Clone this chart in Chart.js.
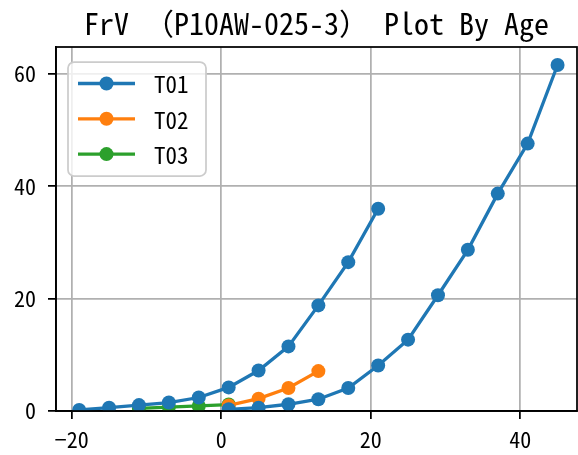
<!DOCTYPE html>
<html><head><meta charset="utf-8">
<script src="https://cdn.jsdelivr.net/npm/chart.js@4.4.0/dist/chart.umd.min.js"></script>
<style>html,body{margin:0;padding:0;background:#fff}canvas{display:block}</style>
</head><body>
<canvas id="c" width="578" height="455" style="width:578px;height:455px"></canvas>
<script>
// ---- data ----
const titleText = "FrV （P10AW-025-3） Plot By Age";
const seriesNames = ["T01", "T02", "T03"];
const seriesColors = ["#1f77b4", "#ff7f0e", "#2ca02c"];
const agesT01a = [-19, -15, -11, -7, -3, 1, 5, 9, 13, 17, 21];
const valsT01a = [0.2, 0.6, 1.05, 1.5, 2.4, 4.2, 7.2, 11.5, 18.8, 26.5, 36.0];
const agesT01b = [1, 5, 9, 13, 17, 21, 25, 29, 33, 37, 41, 45];
const valsT01b = [0.3, 0.6, 1.2, 2.1, 4.1, 8.1, 12.7, 20.6, 28.7, 38.7, 47.6, 61.6];
const agesT02 = [1, 5, 9, 13];
const valsT02 = [1.0, 2.2, 4.1, 7.1];
const agesT03 = [-11, -7, -3, 1];
const valsT03 = [0.45, 0.7, 0.9, 1.15];
const xTicks = [-20, 0, 20, 40];
const yTicks = [0, 20, 40, 60];

const FONT = "'Noto Sans Mono CJK JP', 'Noto Sans CJK JP', 'DejaVu Sans Mono', monospace";
const pts = (xs, ys) => xs.map((x, i) => ({x: x, y: ys[i]}));

function ds(label, xs, ys, color, inLegend) {
  return {
    label: label, data: pts(xs, ys), borderColor: color, backgroundColor: color,
    borderWidth: 3.3, pointRadius: 7, pointHoverRadius: 7, pointBorderWidth: 0,
    pointBackgroundColor: color, tension: 0, clip: 0, inLegend: inLegend
  };
}

const datasets = [
  ds(seriesNames[0], agesT01a, valsT01a, seriesColors[0], true),
  ds(seriesNames[0], agesT01b, valsT01b, seriesColors[0], false),
  ds(seriesNames[1], agesT02, valsT02, seriesColors[1], true),
  ds(seriesNames[2], agesT03, valsT03, seriesColors[2], true)
];

const framePlugin = {
  id: 'frame',
  afterDatasetsDraw(chart) {
    const a = chart.chartArea, c = chart.ctx;
    c.save();
    c.strokeStyle = '#000'; c.lineWidth = 1.75;
    c.strokeRect(a.left, a.top, a.right - a.left, a.bottom - a.top);
    c.restore();
  }
};

const legendPlugin = {
  id: 'mplLegend',
  afterDraw(chart) {
    const c = chart.ctx;
    const items = chart.data.datasets.filter(d => d.inLegend);
    const x0 = 68, y0 = 62, w = 138, h = 114, r = 6;
    c.save();
    c.beginPath();
    c.roundRect(x0, y0, w, h, r);
    c.fillStyle = 'rgba(255,255,255,0.8)';
    c.fill();
    c.strokeStyle = '#cccccc'; c.lineWidth = 1.75;
    c.stroke();
    items.forEach((d, i) => {
      const y = 83.5 + i * 35.3;
      c.strokeStyle = d.borderColor; c.lineWidth = 3.3;
      c.beginPath(); c.moveTo(78, y); c.lineTo(135, y); c.stroke();
      c.fillStyle = d.borderColor;
      c.beginPath(); c.arc(106.5, y, 7, 0, Math.PI * 2); c.fill();
      c.fillStyle = '#000';
      c.font = "23px " + FONT;
      c.textBaseline = 'middle'; c.textAlign = 'left';
      c.fillText(d.label, 154, y + 1);
    });
    c.restore();
  }
};

const fmt = v => String(v).replace('-', '\u2212');

new Chart(document.getElementById('c'), {
  type: 'line',
  data: { datasets: datasets },
  options: {
    responsive: false, animation: false, devicePixelRatio: 1,
    layout: { autoPadding: false, padding: { left: 0, right: 1, top: 0, bottom: 0 } },
    plugins: {
      legend: { display: false },
      tooltip: { enabled: false },
      title: {
        display: true, text: titleText, fullSize: false, color: '#000',
        font: { family: FONT, size: 30, weight: 'normal', lineHeight: 1.2 },
        padding: { top: 6, bottom: 5 }
      }
    },
    scales: {
      x: {
        type: 'linear', min: -22.1, max: 47.6,
        afterFit(s) { s.height = 44; s.paddingLeft = 0; s.paddingRight = 0; },
        afterBuildTicks(s) { s.ticks = xTicks.map(v => ({value: v})); },
        ticks: { includeBounds: false, color: '#000', padding: 7, maxRotation: 0,
                 font: { family: FONT, size: 22 }, callback: v => fmt(v) },
        grid: { color: '#b0b0b0', lineWidth: 1.75, tickColor: '#000', tickLength: 8, tickWidth: 1.75 },
        border: { color: '#000', width: 1.75 }
      },
      y: {
        type: 'linear', min: 0, max: 64.8,
        afterFit(s) { s.width = 56; s.paddingTop = 0; s.paddingBottom = 0; },
        afterBuildTicks(s) { s.ticks = yTicks.map(v => ({value: v})); },
        ticks: { includeBounds: false, color: '#000', padding: 12,
                 font: { family: FONT, size: 22 }, callback: v => fmt(v) },
        grid: { color: '#b0b0b0', lineWidth: 1.75, tickColor: '#000', tickLength: 8, tickWidth: 1.75 },
        border: { color: '#000', width: 1.75 }
      }
    }
  },
  plugins: [framePlugin, legendPlugin]
});
</script></body></html>
